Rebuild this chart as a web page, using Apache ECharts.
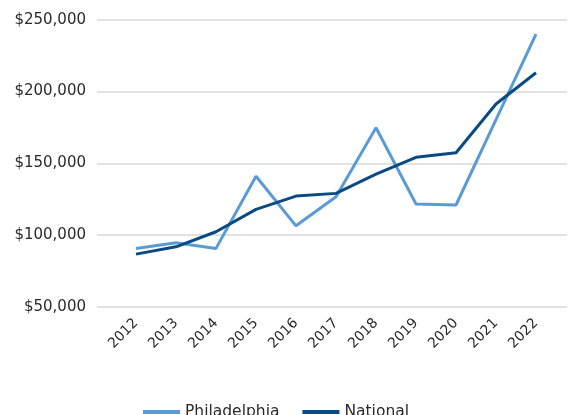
<!DOCTYPE html>
<html><head><meta charset="utf-8">
<script src="https://cdn.jsdelivr.net/npm/echarts@6/dist/echarts.min.js"></script>
<style>html,body{margin:0;padding:0;background:#fff}#c{width:572px;height:415px}</style>
</head><body><div id="c"></div>
<script>
const years = ['2012','2013','2014','2015','2016','2017','2018','2019','2020','2021','2022'];
const philadelphia = [90800, 94700, 90800, 141000, 106500, 126700, 174800, 121700, 121000, 180500, 240000];
const national = [86800, 91900, 102400, 118000, 127200, 129100, 142500, 154200, 157400, 191300, 213100];
const yMin = 50000, yMax = 250000, yStep = 50000;

const FONT = 'DejaVu Sans';
const TXT = '#2a2a2a';
const chart = echarts.init(document.getElementById('c'), null, {renderer:'canvas'});
chart.setOption({
  animation: false,
  textStyle: {fontFamily: FONT},
  grid: [
    {left: 97, right: 5, top: 19.7, bottom: 108},
    {left: 116, right: 16, top: 19.7, bottom: 108}
  ],
  xAxis: [
    {gridIndex: 0, type: 'value', show: false, min: 0, max: 1},
    {gridIndex: 1, type: 'category', data: years, boundaryGap: true,
     axisLine: {show: false}, axisTick: {show: false},
     axisLabel: {rotate: 45, margin: 14, fontSize: 14, color: TXT, fontFamily: FONT, interval: 0}}
  ],
  yAxis: [
    {gridIndex: 0, type: 'value', min: yMin, max: yMax, interval: yStep,
     axisLine: {show: false}, axisTick: {show: false},
     splitLine: {lineStyle: {color: '#d9d9d9', width: 1.5}},
     axisLabel: {margin: 11, fontSize: 15, color: TXT, fontFamily: FONT,
       formatter: v => '$' + v.toLocaleString('en-US')}},
    {gridIndex: 1, type: 'value', min: yMin, max: yMax, interval: yStep, show: false,
     splitLine: {show: false}}
  ],
  legend: {
    top: 399, left: 138, itemWidth: 37, itemHeight: 4, itemGap: 23, icon: 'rect',
    textStyle: {fontSize: 15.5, color: TXT, fontFamily: FONT},
    data: ['Philadelphia', 'National']
  },
  series: [
    {name: 'Philadelphia', type: 'line', xAxisIndex: 1, yAxisIndex: 1, data: philadelphia,
     showSymbol: false, symbol: 'none', lineStyle: {color: '#5b9bd5', width: 3}, itemStyle: {color: '#5b9bd5'}},
    {name: 'National', type: 'line', xAxisIndex: 1, yAxisIndex: 1, data: national,
     showSymbol: false, symbol: 'none', lineStyle: {color: '#0a4a82', width: 3}, itemStyle: {color: '#0a4a82'}}
  ]
});
</script></body></html>
